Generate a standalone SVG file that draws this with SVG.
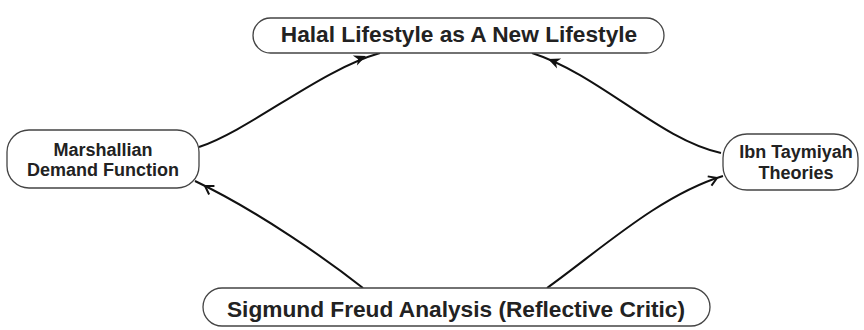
<svg xmlns="http://www.w3.org/2000/svg" xmlns:xlink="http://www.w3.org/1999/xlink" width="864" height="330" viewBox="0 0 864 330">
<style>
.box{fill:#fff;stroke:#444;stroke-width:1.3}
.t{font-family:"Liberation Sans",Arial,sans-serif;font-weight:bold;fill:#222;text-anchor:middle}
.big{font-size:22.7px}
.sm{font-size:18px}
.edge{fill:none;stroke:#111;stroke-width:2}
.ah{fill:#111}
.oa{fill:none;stroke:#111;stroke-width:2;stroke-linejoin:miter}
</style>
<defs>
<path id="ah" d="M0,0 L-12,-5.5 L-8.5,0 L-12,5.5 Z"/>
<path id="oa" d="M-8,-5 L0,0 L-8,5"/>
</defs>
<rect width="864" height="330" fill="#fff"/>
<g id="connectors">
<path class="edge" d="M199,147 C250,130 320,70 380,53"/>
<use href="#ah" class="ah" transform="translate(366,56) rotate(-22)"/>
<path class="edge" d="M721,153 C660,140 600,75 532,53"/>
<use href="#ah" class="ah" transform="translate(548,59) rotate(202)"/>
<path class="edge" d="M363,288 C330,262 260,212 195,181"/>
<use href="#oa" class="oa" transform="translate(205,186) rotate(-148)"/>
<path class="edge" d="M547,288 C600,250 660,195 723,176"/>
<use href="#oa" class="oa" transform="translate(717,178) rotate(-22)"/>
</g>
<g id="node-halal">
<rect class="box" x="253" y="18" width="411" height="35" rx="17.5"/>
<text class="t big" x="459" y="42">Halal Lifestyle as A New Lifestyle</text>
</g>
<g id="node-marshallian">
<rect class="box" x="7" y="130" width="192" height="58" rx="22"/>
<text class="t sm" x="103" y="156">Marshallian</text>
<text class="t sm" x="103" y="176">Demand Function</text>
</g>
<g id="node-ibn">
<rect class="box" x="723" y="134" width="135" height="56" rx="24"/>
<text class="t sm" x="796" y="158">Ibn Taymiyah</text>
<text class="t sm" x="796" y="179">Theories</text>
</g>
<g id="node-freud">
<rect class="box" x="203" y="288" width="507" height="38" rx="19"/>
<text class="t big" x="456" y="317">Sigmund Freud Analysis (Reflective Critic)</text>
</g>
</svg>
